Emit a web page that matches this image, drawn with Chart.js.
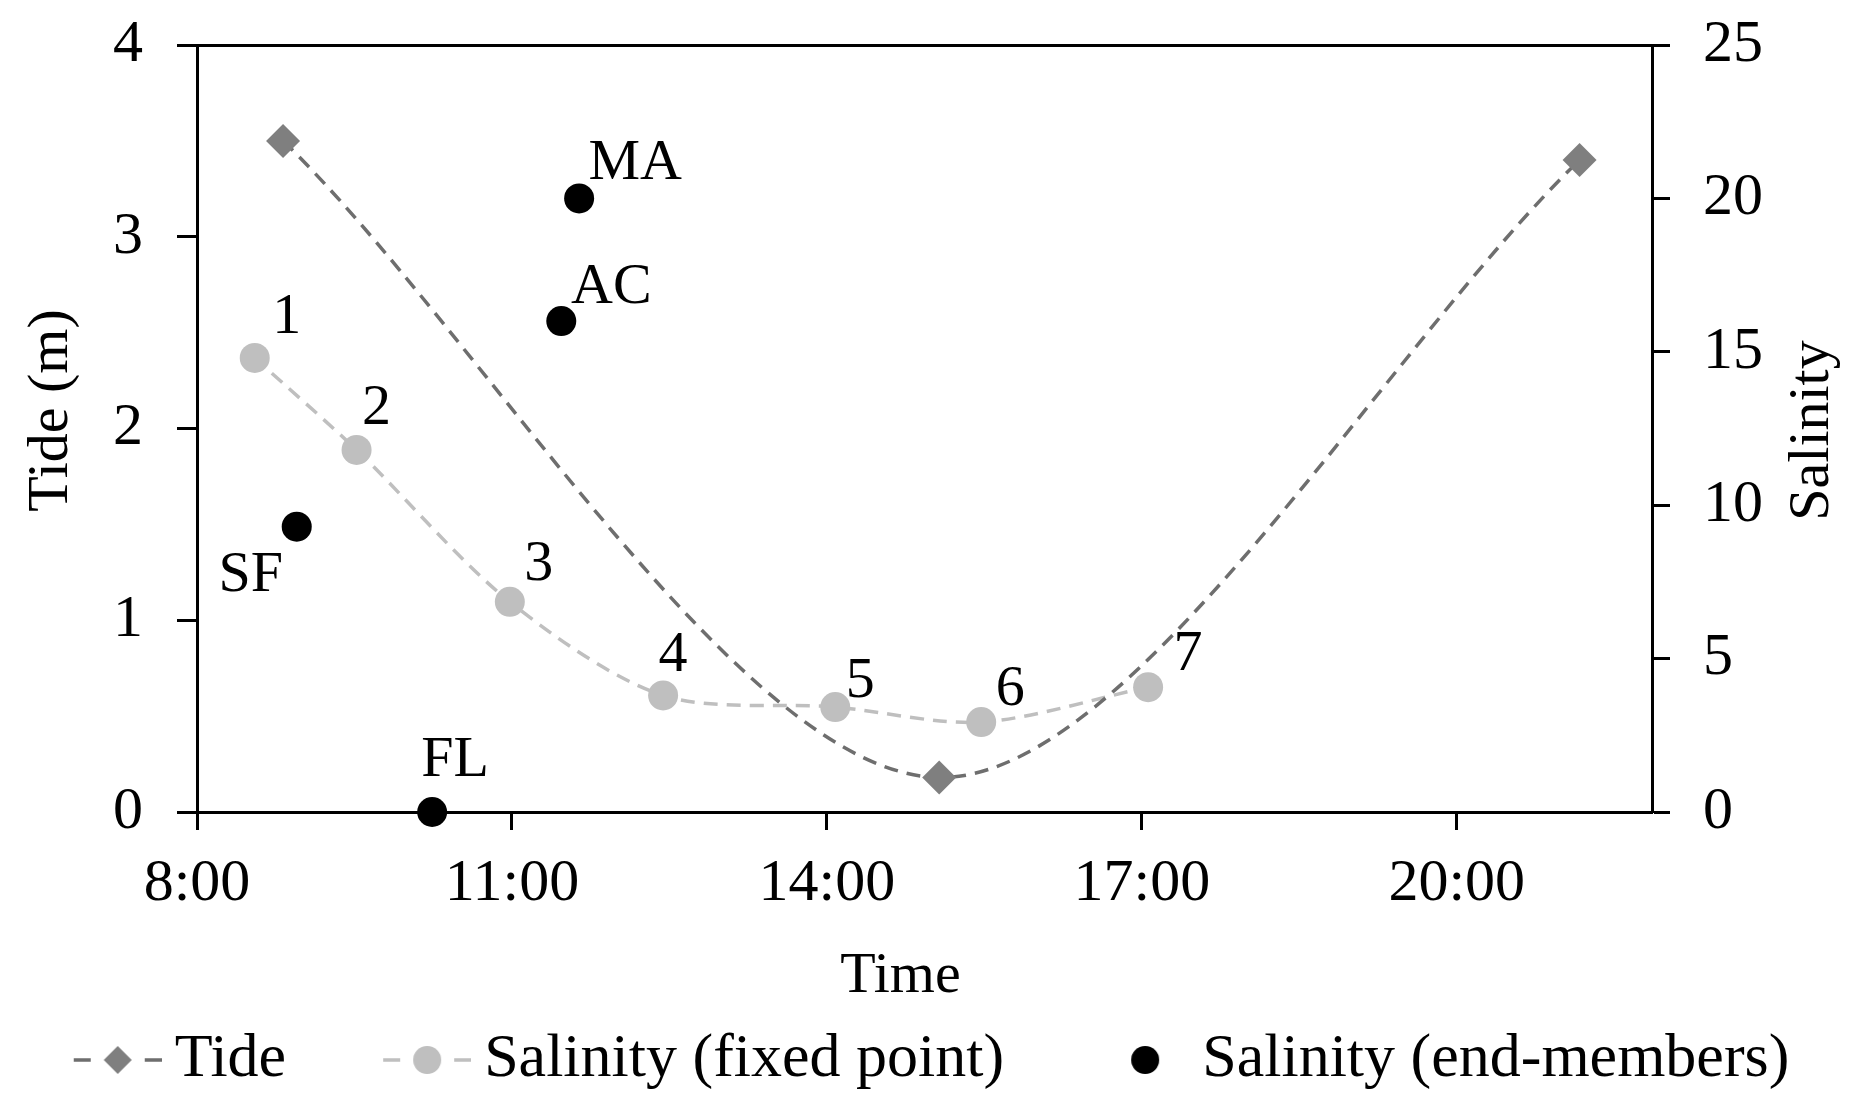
<!DOCTYPE html>
<html>
<head>
<meta charset="utf-8">
<script src="https://cdn.jsdelivr.net/npm/chart.js@4.4.1/dist/chart.umd.min.js"></script>
<style>
  html, body { margin: 0; padding: 0; background: #fff; }
  #c { display: block; }
</style>
</head>
<body>
<canvas id="c" width="1850" height="1103"></canvas>
<script>
// ---- data ----
const xTickValues = [8, 11, 14, 17, 20];
const xTickLabels = ['8:00', '11:00', '14:00', '17:00', '20:00'];
const xMin = 8;
const xMax = 21.86;

const tideTimes  = [8.82, 15.07, 21.17];
const tideValues = [3.50, 0.18, 3.40];

const salTimes  = [8.55, 9.52, 10.98, 12.44, 14.08, 15.47, 17.06];
const salValues = [14.8, 11.8, 6.85, 3.8, 3.42, 2.93, 4.07];
const salLabels = ['1', '2', '3', '4', '5', '6', '7'];

const endTimes  = [11.64, 11.47, 8.95, 10.24];
const endValues = [20.0, 16.0, 9.3, 0];
const endLabels = ['MA', 'AC', 'SF', 'FL'];

const seriesNames = ['Tide', 'Salinity (fixed point)', 'Salinity (end-members)'];
const axisTitles = { x: 'Time', y: 'Tide (m)', y1: 'Salinity' };

// ---- styling ----
const FONT = "'Liberation Serif', 'Times New Roman', serif";
Chart.defaults.font.family = FONT;
Chart.defaults.color = '#000';

const tideColor = '#7f7f7f';
const tideLine = '#6e6e6e';
const salColor = '#bfbfbf';
const endColor = '#000000';

function makeLegendSymbol(marker, fill, lineColor) {
  const c = document.createElement('canvas');
  c.width = 183; c.height = 40;
  const g = c.getContext('2d');
  if (lineColor) {
    g.strokeStyle = lineColor; g.lineWidth = 3.5;
    g.beginPath();
    g.moveTo(95, 20); g.lineTo(112, 20);
    g.moveTo(166, 20); g.lineTo(183, 20);
    g.stroke();
  }
  g.fillStyle = fill;
  g.beginPath();
  if (marker === 'diamond') {
    g.moveTo(139, 6); g.lineTo(153, 20); g.lineTo(139, 34); g.lineTo(125, 20); g.closePath();
  } else {
    g.arc(139, 20, 14, 0, Math.PI * 2);
  }
  g.fill();
  return c;
}
const legendSymbols = [
  makeLegendSymbol('diamond', tideColor, tideLine),
  makeLegendSymbol('circle', salColor, salColor),
  makeLegendSymbol('circle', endColor, null)
];

// point labels (1..7, MA, AC, SF, FL)
const pointLabelPlugin = {
  id: 'pointLabels',
  afterDatasetsDraw(chart, args, opts) {
    const ctx = chart.ctx;
    ctx.save();
    ctx.font = opts.font;
    ctx.fillStyle = opts.color;
    ctx.textAlign = 'center';
    ctx.textBaseline = 'middle';
    opts.sets.forEach(set => {
      const meta = chart.getDatasetMeta(set.datasetIndex);
      meta.data.forEach((el, j) => {
        const off = set.offsets[j];
        ctx.fillText(set.labels[j], el.x + off[0], el.y + off[1]);
      });
    });
    ctx.restore();
  }
};

// axis titles placed as in the reference (vertical ones read bottom-to-top)
const axisTitlePlugin = {
  id: 'axisTitles',
  afterDraw(chart, args, opts) {
    const ctx = chart.ctx;
    const area = chart.chartArea;
    const midY = (area.top + area.bottom) / 2;
    const midX = (area.left + area.right) / 2;
    ctx.save();
    ctx.font = opts.font;
    ctx.fillStyle = opts.color;
    ctx.textAlign = 'center';
    ctx.textBaseline = 'middle';
    opts.items.forEach(it => {
      const sc = chart.scales[it.scale];
      let x, y, rot;
      if (it.side === 'bottom') {
        x = midX + it.dx; y = sc.bottom + it.dy; rot = 0;
      } else {
        x = (it.side === 'left' ? sc.left : sc.right) + it.dx;
        y = midY + it.dy; rot = -Math.PI / 2;
      }
      ctx.save();
      ctx.translate(x, y);
      ctx.rotate(rot);
      ctx.fillText(it.text, 0, 0);
      ctx.restore();
    });
    ctx.restore();
  }
};

const toXY = (xs, ys) => xs.map((x, i) => ({ x: x, y: ys[i] }));

new Chart(document.getElementById('c'), {
  type: 'scatter',
  data: {
    datasets: [
      {
        label: seriesNames[0],
        data: toXY(tideTimes, tideValues),
        yAxisID: 'y',
        showLine: true,
        tension: 0.3,
        borderColor: tideLine,
        borderWidth: 3.5,
        borderDash: [14, 9],
        pointStyle: 'rectRot',
        pointRadius: 17,
        pointBackgroundColor: tideColor,
        pointBorderColor: tideColor,
        pointBorderWidth: 0,
        clip: false
      },
      {
        label: seriesNames[1],
        data: toXY(salTimes, salValues),
        yAxisID: 'y1',
        showLine: true,
        tension: 0.3,
        borderColor: salColor,
        borderWidth: 3.5,
        borderDash: [14, 9],
        pointStyle: 'circle',
        pointRadius: 15,
        pointBackgroundColor: salColor,
        pointBorderColor: salColor,
        pointBorderWidth: 0,
        clip: false
      },
      {
        label: seriesNames[2],
        data: toXY(endTimes, endValues),
        yAxisID: 'y1',
        showLine: false,
        pointStyle: 'circle',
        pointRadius: 15,
        pointBackgroundColor: endColor,
        pointBorderColor: endColor,
        pointBorderWidth: 0,
        clip: false
      }
    ]
  },
  options: {
    responsive: false,
    devicePixelRatio: 1,
    animation: false,
    events: [],
    layout: { padding: { left: -32, right: 32, top: 45, bottom: 2 } },
    scales: {
      x: {
        type: 'linear',
        position: 'bottom',
        min: xMin,
        max: xMax,
        afterBuildTicks: s => { s.ticks = xTickValues.map(v => ({ value: v })); },
        afterFit: s => { s.height = 197; s.paddingLeft = 0; s.paddingRight = 0; },
        ticks: {
          font: { size: 60 },
          padding: 18,
          color: '#000',
          maxRotation: 0,
          autoSkip: false,
          callback: (v) => xTickLabels[xTickValues.indexOf(v)]
        },
        grid: {
          drawOnChartArea: false,
          drawTicks: true,
          tickLength: 18,
          tickColor: '#000',
          tickWidth: 3
        },
        border: { display: true, color: '#000', width: 3 },
        title: { display: false }
      },
      y: {
        type: 'linear',
        position: 'left',
        min: 0, max: 4,
        afterFit: s => { s.width = 229; s.paddingTop = 0; s.paddingBottom = 0; },
        ticks: { stepSize: 1, font: { size: 60 }, padding: 34, color: '#000' },
        grid: {
          drawOnChartArea: true,
          color: c => (c.tick && c.tick.value === 4) ? '#000' : 'rgba(0,0,0,0)',
          lineWidth: 3,
          drawTicks: true,
          tickLength: 20,
          tickColor: '#000',
          tickWidth: 3
        },
        border: { display: true, color: '#000', width: 3 },
        title: { display: false }
      },
      y1: {
        type: 'linear',
        position: 'right',
        min: 0, max: 25,
        afterFit: s => { s.width = 166; s.paddingTop = 0; s.paddingBottom = 0; },
        ticks: { stepSize: 5, font: { size: 60 }, padding: 33, color: '#000' },
        grid: {
          drawOnChartArea: false,
          drawTicks: true,
          tickLength: 18,
          tickColor: '#000',
          tickWidth: 3
        },
        border: { display: true, color: '#000', width: 3 },
        title: { display: false }
      }
    },
    plugins: {
      tooltip: { enabled: false },
      legend: {
        display: true,
        position: 'bottom',
        align: 'center',
        labels: {
          usePointStyle: true,
          pointStyleWidth: 147,
          padding: 20,
          color: '#000',
          font: { size: 62 },
          generateLabels: (chart) => chart.data.datasets.map((ds, i) => ({
            text: ds.label,
            pointStyle: legendSymbols[i],
            fillStyle: 'rgba(0,0,0,0)',
            strokeStyle: 'rgba(0,0,0,0)',
            lineWidth: 0,
            hidden: false,
            datasetIndex: i,
            fontColor: '#000'
          }))
        }
      },
      pointLabels: {
        font: "58px 'Liberation Serif', 'Times New Roman', serif",
        color: '#000',
        sets: [
          { datasetIndex: 1, labels: salLabels,
            offsets: [[32, -40], [20, -41], [29, -37], [10, -40], [25, -25], [29, -32], [40, -32]] },
          { datasetIndex: 2, labels: endLabels,
            offsets: [[56, -35], [50, -33], [-46, 49], [23, -51]] }
        ]
      },
      axisTitles: {
        font: "58px 'Liberation Serif', 'Times New Roman', serif",
        color: '#000',
        items: [
          { scale: 'x', side: 'bottom', text: axisTitles.x, dx: -24, dy: -32 },
          { scale: 'y', side: 'left', text: axisTitles.y, dx: 84, dy: -18 },
          { scale: 'y1', side: 'right', text: axisTitles.y1, dx: -5, dy: 2 }
        ]
      }
    }
  },
  plugins: [pointLabelPlugin, axisTitlePlugin]
});
</script>
</body>
</html>
